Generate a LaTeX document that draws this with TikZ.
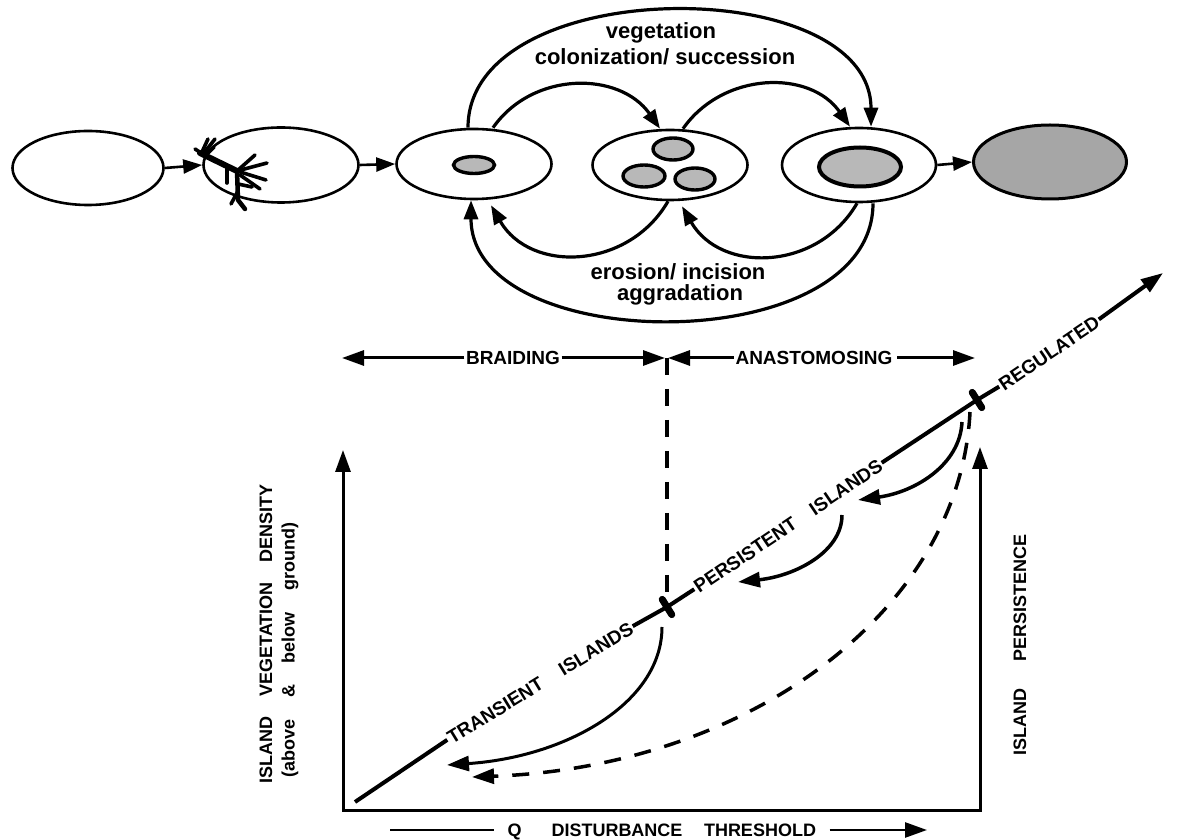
\documentclass[tikz,border=0pt]{standalone}
\usepackage{fontspec}
\setmainfont{Liberation Sans}
\usetikzlibrary{arrows.meta,shapes.geometric}
\begin{document}
\begin{tikzpicture}[x=1pt,y=1pt,
  bigtri/.tip={Triangle[length=19pt,width=14pt]},
  axtri/.tip={Triangle[length=22pt,width=15pt]},
  ell/.style={draw,ellipse,line width=2.6pt,inner sep=0pt},
  islet/.style={draw,ellipse,line width=3.4pt,inner sep=0pt,fill=black!28},
  conn/.style={line width=2.6pt,-{bigtri}},
  arcc/.style={line width=3.2pt,-{bigtri}},
  lc/.style={font=\bfseries\fontsize{22}{24}\selectfont,inner sep=0pt},
  caps/.style={font=\bfseries\fontsize{19}{21}\selectfont,inner sep=1.5pt,text height=13.6pt,text depth=0pt},
  capsb/.style={font=\bfseries\fontsize{18}{20}\selectfont,inner sep=1.5pt,text height=12.9pt,text depth=0pt},
  axl/.style={font=\bfseries\fontsize{18}{20}\selectfont,inner sep=0pt},
  mainl/.style={line width=4pt},
  rowl/.style={line width=3pt},
  tick/.style={line width=7pt,line cap=round},
  dsh/.style={line width=3.5pt,dash pattern=on 17pt off 14pt}
]
\useasboundingbox (0,0) rectangle (1179,839);
% ---------- top row ----------
\node[ell,minimum width=151pt,minimum height=74pt] (A) at (88,671) {};
\node[ell,minimum width=155pt,minimum height=75pt] (B) at (281,674) {};
\node[ell,minimum width=155pt,minimum height=70pt] (C) at (474,675) {};
\node[ell,minimum width=155pt,minimum height=70pt] (D) at (670,674) {};
\node[ell,minimum width=154pt,minimum height=74pt] (E) at (859,674) {};
\node[ell,line width=3pt,fill=black!35,minimum width=153pt,minimum height=74pt] (F) at (1050,677) {};
% islets
\node[islet,minimum width=41pt,minimum height=17pt] (c1) at (474,674) {};
\node[islet,minimum width=40pt,minimum height=22pt] (d1) at (673,690) {};
\node[islet,minimum width=42pt,minimum height=22pt] (d2) at (644,663) {};
\node[islet,minimum width=40pt,minimum height=22pt] (d3) at (695,660) {};
\node[islet,line width=4pt,minimum width=82pt,minimum height=39pt] (e1) at (860,672) {};
% plant
\begin{scope}[line width=3.6pt,line cap=round]
\draw[line width=6pt] (200,686) -- (237,668);
\draw (202,687) -- (208,700);
\draw (204,686) -- (215,700);
\draw (206,684) -- (214,692);
\draw (201,686) -- (195,690);
\draw (237,668) -- (267,676);
\draw (237,668) -- (255,684);
\draw (237,668) -- (266,659);
\draw (240,664) -- (260,650);
\draw[line width=4.5pt] (237,668) -- (238,639) -- (245,630);
\draw (227,672) -- (227,656);
\draw (238,648) -- (231,635);
\draw (238,655) -- (252,652);
\end{scope}
% straight connectors
\draw[conn] (A.east) -- (B.west);
\draw[conn] (B.east) -- (C.west);
\draw[conn] (E.east) -- (F.west);
% top arcs
\draw[arcc] ([xshift=-6pt]C.north) .. controls +(0,155) and +(0,155) .. ([xshift=12pt]E.north);
\draw[arcc] ([xshift=19pt]C.north) to[out=55,in=125,looseness=1.07] ([xshift=-10pt]D.north);
\draw[arcc] ([xshift=13pt]D.north) to[out=55,in=125,looseness=1.07] ([xshift=-9pt]E.north);
% bottom arcs
\draw[arcc] ([xshift=14pt]E.south) .. controls +(0,-157) and +(0,-157) .. ([xshift=-3pt]C.south);
\draw[arcc] ([xshift=-2pt]D.south) to[out=-120,in=-60,looseness=1.14] ([xshift=17pt,yshift=-5pt]C.south);
\draw[arcc] ([xshift=-2pt]E.south) to[out=-120,in=-60,looseness=1.14] ([xshift=12pt,yshift=-5pt]D.south);
% arc labels
\node[lc] (veg) at (661,806) {vegetation};
\node[lc] (col) at (665,782) {colonization/ succession};
\node[lc] (ero) at (678,567) {erosion/ incision};
\node[lc] (agg) at (680,544) {aggradation};
% ---------- braiding row ----------
\node[caps] (BR) at (513,481) {BRAIDING};
\node[caps] (AN) at (814,481) {ANASTOMOSING};
\coordinate (Lt) at (342,481);
\coordinate (M) at (667,481);
\coordinate (Rt) at (975,481);
\draw[rowl,-{axtri}] (BR.west) -- (Lt);
\draw[rowl,-{axtri}] (BR.east) -- ([xshift=-2pt]M);
\draw[rowl,-{axtri}] (AN.west) -- ([xshift=1pt]M);
\draw[rowl,-{axtri}] ([xshift=3pt]AN.east) -- (Rt);
% ---------- graph ----------
\coordinate (O) at (343,29);
\coordinate (Ytip) at (343,389);
\coordinate (Rc) at (980,29);
\coordinate (Rtip) at (980,392);
\draw[line width=3pt,{axtri}-{axtri}] (Ytip) -- (O) -- (Rc) -- (Rtip);
\coordinate (P0) at (355,37);
\coordinate (T1) at (667,232);
\coordinate (T2) at (977,439);
\coordinate (Tip) at (1163,566);
\node[caps,rotate=31.5] (TI) at (540,156) {TRANSIENT\hspace{22pt}ISLANDS};
\node[caps,rotate=34] (PI) at (788,313) {PERSISTENT\hspace{20pt}ISLANDS};
\node[caps,rotate=34] (RG) at (1049,486) {REGULATED};
\draw[dsh] (M) -- (T1);
\draw[mainl] (P0) -- (TI.west);
\draw[mainl] (TI.east) -- (T1) -- (PI.west);
\draw[mainl] (PI.east) -- (T2) -- (RG.west);
\draw[mainl,-{axtri}] (RG.east) -- (Tip);
\draw[tick] ([shift={(122:9)}]T1) -- ([shift={(-58:9)}]T1);
\draw[tick] ([shift={(122:9)}]T2) -- ([shift={(-58:9)}]T2);
% curved arrows
\coordinate (s1) at (962,417); \coordinate (f1) at (858,339);
\draw[line width=3.5pt,-{axtri}] (s1) .. controls +(-2,-43) and +(57,8) .. (f1);
\coordinate (s2) at (842,324); \coordinate (f2) at (738,257);
\draw[line width=3.5pt,-{axtri}] (s2) .. controls +(0,-37) and +(57,6) .. (f2);
\coordinate (s3) at (662,212); \coordinate (f3) at (447,74);
\draw[line width=3pt,-{axtri}] (s3) .. controls +(0,-76) and +(119,8) .. (f3);
\coordinate (s4) at (970,427); \coordinate (f4) at (472,62);
\draw[dsh,-{axtri}] (s4) .. controls +(-10,-200) and +(275,10) .. (f4);
% axis labels
\node[axl,rotate=90] (YL1) at (266,205) {ISLAND\hspace{1.1em}VEGETATION\hspace{1.1em}DENSITY};
\node[axl,rotate=90] (YL2) at (290,189) {(above\hspace{1.2em}\&\hspace{1.2em}below\hspace{1.2em}ground)};
\node[axl,rotate=90] (RL) at (1020,194) {ISLAND\hspace{1.5em}PERSISTENCE};
\node[capsb] (Q) at (514.5,9) {Q};
\node[capsb] (DI) at (617,9) {DISTURBANCE};
\node[capsb] (TH) at (760,9) {THRESHOLD};
\coordinate (qL) at (390,9);
\coordinate (thR) at (927,9);
\draw[line width=2.6pt] (qL) -- ([xshift=-12pt]Q.west);
\draw[line width=2.6pt,-{axtri}] ([xshift=12pt]TH.east) -- (thR);
\end{tikzpicture}
\end{document}
